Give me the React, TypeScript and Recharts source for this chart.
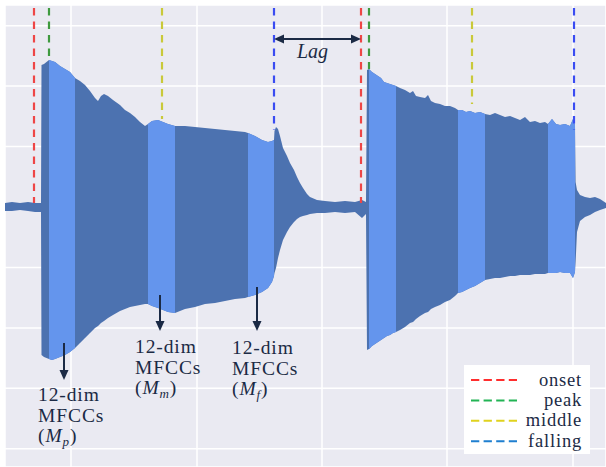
import { ComposedChart, Area, XAxis, YAxis, CartesianGrid, ReferenceLine, ReferenceDot, Legend } from 'recharts';

// frame index along the recording, and the upper / lower envelope of the waveform
const FRAME = [
  0, 7, 15, 23, 30, 36, 36.5, 39, 44, 47,
  50, 55, 60, 65, 70, 75, 80, 85, 90, 93,
  96, 99, 103, 108, 115, 120, 125, 130, 135, 140,
  143, 147, 153, 158, 163, 170, 180, 190, 200, 210,
  220, 230, 240, 243, 250, 257, 263, 267, 269, 269.5,
  271, 273, 275, 278, 282, 285, 289, 292, 295, 298,
  302, 305, 312, 320, 330, 340, 350, 357, 361, 362,
  364, 367, 370, 373, 376, 379, 382, 385, 388, 391,
  395, 400, 405, 408, 411, 415, 420, 423, 426, 430,
  435, 440, 445, 450, 453, 457, 461, 465, 470, 475,
  480, 485, 490, 495, 500, 505, 510, 515, 520, 525,
  530, 535, 540, 543, 547, 551, 555, 560, 565, 568,
  570, 570.6, 572, 575, 580, 585, 590, 595, 601,
];

const UPPER = [
  4, 5, 4, 5, 4, 4, 142, 143, 147, 146,
  145, 141, 138, 135, 129, 126, 122, 116, 109, 106,
  111, 113, 111, 107, 102, 97, 94, 90, 85, 81,
  83, 86, 87, 85, 83, 81, 81, 80, 79, 78,
  77, 76, 75, 74, 71, 67, 65, 66, 67, 76,
  80, 78, 71, 59, 51, 44, 37, 30, 24, 19,
  13, 10, 7, 6, 5, 6, 5, 7, 5, 137,
  138, 135, 133, 131, 129, 125, 124, 123, 122, 121,
  119, 117, 114, 116, 111, 110, 109, 112, 106, 104,
  103, 101, 101, 99, 97, 97, 95, 96, 94, 95,
  93, 92, 94, 92, 90, 91, 89, 87, 90, 85,
  86, 84, 85, 83, 88, 83, 82, 83, 81, 88,
  82, 25, 17, 12, 10, 9, 10, 8, 4,
];

const LOWER = [
  -4, -4, -3, -4, -5, -5, -148, -150, -152, -153,
  -152, -150, -148, -145, -141, -136, -131, -126, -121, -119,
  -116, -114, -111, -108, -104, -102, -100, -99, -98, -97,
  -97, -99, -101, -103, -105, -106, -102, -100, -97, -96,
  -94, -92, -91, -90, -88, -85, -81, -75, -69, -66,
  -61, -51, -43, -33, -25, -20, -15, -12, -10, -9,
  -8, -7, -6, -6, -5, -6, -5, -11, -7, -143,
  -142, -139, -137, -135, -133, -131, -129, -128, -126, -125,
  -123, -120, -116, -115, -112, -109, -106, -105, -102, -100,
  -98, -95, -93, -89, -86, -85, -83, -81, -79, -76,
  -73, -72, -71, -71, -70, -69, -69, -68, -68, -68,
  -67, -67, -67, -66, -66, -66, -65, -66, -66, -71,
  -65, -55, -25, -14, -10, -8, -5, -3, -1,
];

// frames where the 12-dim MFCCs are taken (peak, middle, falling of each note)
const MFCC_WINDOWS = [
  [44, 70], [143, 170], [243, 269],
  [364, 391], [453, 480], [543, 570],
];

// event markers: frame and envelope height where the dashed line stops
const MARKERS = [
  { name: 'onset', frame: 29, stop: 4 },
  { name: 'peak', frame: 44, stop: 147 },
  { name: 'middle', frame: 157, stop: 88 },
  { name: 'falling', frame: 269, stop: 77 },
  { name: 'onset', frame: 356, stop: 4 },
  { name: 'peak', frame: 364, stop: 138 },
  { name: 'middle', frame: 467, stop: 103 },
  { name: 'falling', frame: 569, stop: 77 },
];

const LEGEND_ITEMS = ['onset', 'peak', 'middle', 'falling'];

const X_GRID = [66, 192, 317, 442, 568];
const Y_GRID = [-241.7, -181.3, -120.9, -60.4, 0, 60.4, 120.9, 181.3];

const LINE_COLORS: Record<string, string> = {
  onset: '#ee4646',
  peak: '#3f9a3f',
  middle: '#c9c93a',
  falling: '#3a4cf2',
};
const LEGEND_COLORS: Record<string, string> = {
  onset: '#ff2e2e',
  peak: '#22b455',
  middle: '#e0d21e',
  falling: '#1f7fd0',
};

const INK = '#1b2a45';
const SERIF = "'Liberation Serif', 'Times New Roman', Times, serif";

const inWindow = (f: number) => MFCC_WINDOWS.some(([a, b]) => f >= a && f <= b);

const rows = FRAME.map((f, i) => ({
  frame: f,
  wave: [LOWER[i], UPPER[i]],
  mfcc: inWindow(f) ? [LOWER[i], UPPER[i]] : null,
}));

function ArrowShape(props: any) {
  const { x1, y1, x2, y2, both } = props;
  const dx = x2 - x1;
  const dy = y2 - y1;
  const len = Math.sqrt(dx * dx + dy * dy) || 1;
  const ux = dx / len;
  const uy = dy / len;
  const hl = 10;
  const hw = 4.5;
  const head = (tx: number, ty: number, sx: number, sy: number) => {
    const bx = tx - sx * hl;
    const by = ty - sy * hl;
    return `${tx},${ty} ${bx - sy * hw},${by + sx * hw} ${bx + sy * hw},${by - sx * hw}`;
  };
  const sx1 = both ? x1 + ux * (hl - 2) : x1;
  const sy1 = both ? y1 + uy * (hl - 2) : y1;
  return (
    <g>
      <line x1={sx1} y1={sy1} x2={x2 - ux * (hl - 2)} y2={y2 - uy * (hl - 2)} stroke={INK} strokeWidth={2} />
      <polygon points={head(x2, y2, ux, uy)} fill={INK} />
      {both && <polygon points={head(x1, y1, -ux, -uy)} fill={INK} />}
    </g>
  );
}

function MfccLabel(props: any) {
  const { cx, cy, sub } = props;
  return (
    <text x={cx} y={cy} fill={INK} fontFamily={SERIF} fontSize={19.5} letterSpacing={0.9}>
      <tspan x={cx} y={cy}>12-dim</tspan>
      <tspan x={cx} y={cy + 20.5}>MFCCs</tspan>
      <tspan x={cx} y={cy + 41}>(</tspan>
      <tspan fontStyle="italic">M</tspan>
      <tspan fontStyle="italic" fontSize={13} dy={4}>{sub}</tspan>
      <tspan dy={-4}>)</tspan>
    </text>
  );
}

function LegendBox() {
  return (
    <div style={{ background: '#ffffff', width: 126, height: 89 }}>
      <svg width={126} height={89}>
        {LEGEND_ITEMS.map((name, i) => {
          const y = 15 + i * 20.4;
          return (
            <g key={name}>
              <line x1={7} x2={53} y1={y} y2={y} stroke={LEGEND_COLORS[name]} strokeWidth={2} strokeDasharray="8.3 4.3" />
              <text x={118} y={y + 5.5} textAnchor="end" fill={INK} fontFamily={SERIF} fontSize={18.5} letterSpacing={0.8}>
                {name}
              </text>
            </g>
          );
        })}
      </svg>
    </div>
  );
}

export default function App() {
  return (
    <div style={{ position: 'absolute', left: 0, top: 0, background: '#ffffff' }}>
      <ComposedChart width={606} height={467} data={rows} margin={{ top: 5, right: 0, bottom: 0, left: 5 }}>
        <CartesianGrid fill="#eaeaf2" stroke="#ffffff" strokeWidth={1.5} />
        <XAxis type="number" dataKey="frame" domain={[0, 601]} ticks={X_GRID} hide allowDataOverflow />
        <YAxis type="number" domain={[-260, 202]} ticks={Y_GRID} hide allowDataOverflow />
        {MARKERS.map((m, i) => (
          <ReferenceLine
            key={'m' + i}
            segment={[{ x: m.frame, y: 199 }, { x: m.frame, y: m.stop }]}
            stroke={LINE_COLORS[m.name]}
            strokeWidth={2.2}
            strokeDasharray="7.5 6"
          />
        ))}
        <Area
          type="linear"
          dataKey="wave"
          stroke="none"
          fill="#4c72b0"
          fillOpacity={1}
          dot={false}
          activeDot={false}
          isAnimationActive={false}
        />
        <Area
          type="linear"
          dataKey="mfcc"
          stroke="none"
          fill="#6495ed"
          fillOpacity={1}
          dot={false}
          activeDot={false}
          connectNulls={false}
          isAnimationActive={false}
        />
        <ReferenceLine
          segment={[{ x: 269, y: 168 }, { x: 356, y: 168 }]}
          shape={(p: any) => <ArrowShape {...p} both />}
        />
        <ReferenceLine segment={[{ x: 59, y: -136 }, { x: 59, y: -173 }]} shape={(p: any) => <ArrowShape {...p} />} />
        <ReferenceLine segment={[{ x: 155, y: -88 }, { x: 155, y: -124 }]} shape={(p: any) => <ArrowShape {...p} />} />
        <ReferenceLine segment={[{ x: 252, y: -80 }, { x: 252, y: -124 }]} shape={(p: any) => <ArrowShape {...p} />} />
        <ReferenceDot
          x={307.5}
          y={149}
          r={1}
          shape={(p: any) => (
            <text x={p.cx} y={p.cy} textAnchor="middle" fill={INK} fontFamily={SERIF} fontStyle="italic" fontSize={20}>
              Lag
            </text>
          )}
        />
        <ReferenceDot x={33} y={-194} r={1} shape={(p: any) => <MfccLabel {...p} sub="p" />} />
        <ReferenceDot x={130} y={-146} r={1} shape={(p: any) => <MfccLabel {...p} sub="m" />} />
        <ReferenceDot x={227} y={-147} r={1} shape={(p: any) => <MfccLabel {...p} sub="f" />} />
        <Legend
          layout="vertical"
          align="center"
          verticalAlign="middle"
          content={() => <LegendBox />}
          wrapperStyle={{ left: 464, top: 365, width: 126, height: 89 }}
        />
      </ComposedChart>
    </div>
  );
}
